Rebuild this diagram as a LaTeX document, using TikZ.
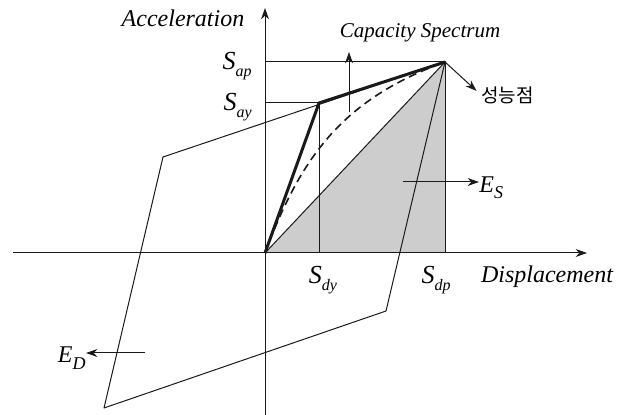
\documentclass[tikz,border=0pt]{standalone}
\usepackage{fontspec}
\setmainfont{Liberation Serif}
\newfontfamily\lblfont{Liberation Serif}
\newfontfamily\kofont{Noto Sans CJK KR}
\usetikzlibrary{arrows.meta,positioning}
\definecolor{inkline}{HTML}{1A1A1A}
\definecolor{areafill}{HTML}{CDCDCD}
\newcommand{\spec}[2]{{\lblfont\fontsize{13}{14}\selectfont\itshape #1}\raisebox{-0.7ex}{\lblfont\fontsize{8}{9}\selectfont\itshape #2}}
\newcommand{\enr}[2]{{\lblfont\fontsize{12}{14}\selectfont\itshape #1}\raisebox{-0.7ex}{\lblfont\fontsize{9}{10}\selectfont\itshape #2}}
\tikzset{
  axis/.style={-{Stealth[length=2mm,width=1.4mm]}, line width=0.5pt, draw=inkline},
  thinln/.style={line width=0.5pt, draw=inkline, line join=round},
  thickln/.style={line width=1.5pt, draw=inkline, line join=round},
  dashln/.style={line width=0.8pt, draw=inkline, dash pattern=on 4pt off 2.5pt},
  ptr/.style={-{Stealth[length=2mm,width=1.4mm]}, line width=0.5pt, draw=inkline},
  axlbl/.style={font=\lblfont\fontsize{12}{14}\selectfont\itshape, inner sep=0pt},
  symlbl/.style={inner sep=0pt}}

\begin{document}
\begin{tikzpicture}[x=0.5pt, y=-0.5pt]
  \useasboundingbox (0,0) rectangle (619,415);
  \coordinate (O) at (265,253);
  \coordinate (Y) at (319,103);
  \coordinate (P) at (445,62);
  \coordinate (Sdy) at (319,253);
  \coordinate (Sdp) at (445,253);
  \coordinate (Say) at (265,103);
  \coordinate (Sap) at (265,62);
  \coordinate (Q) at (386,311);
  \coordinate (R) at (104,408);
  \coordinate (T) at (163,157);
  \coordinate (xl) at (13,253);
  \coordinate (xr) at (587,253);
  \coordinate (yb) at (265,415);
  \coordinate (yt) at (265,8);
  \coordinate (cs0) at (349,112);
  \coordinate (cs1) at (349,52);
  \coordinate (es0) at (403,182);
  \coordinate (ed0) at (145,353);

  \fill[areafill] (O) -- (P) -- (Sdp) -- cycle;
  \draw[axis] (xl) -- (xr);
  \draw[axis] (yb) -- (yt);
  \draw[thinln] (Sap) -- (P) -- (Sdp);
  \draw[thinln] (Say) -- (Y) -- (Sdy);
  \draw[thinln] (O) -- (P);
  \draw[thinln] (P) -- (Q) -- (R) -- (T) -- cycle;
  \draw[dashln] (O) .. controls (300,160) and (340,100) .. (P);
  \draw[thickln] (O) -- (Y) -- (P);

  \node[axlbl] (acc) at (183,18) {Acceleration};
  \node[axlbl, font=\lblfont\fontsize{10.5}{12}\selectfont\itshape] (cap) at (420,33) {Capacity Spectrum};
  \node[axlbl] (disp) at (547,277) {Displacement};
  \node[symlbl, anchor=east] (lap) at (252,66) {\spec{S}{ap}};
  \node[symlbl, anchor=east] (lay) at (252,107) {\spec{S}{ay}};
  \node[symlbl] (ldy) at (323,280) {\spec{S}{dy}};
  \node[symlbl] (ldp) at (436,280) {\spec{S}{dp}};
  \node[symlbl, anchor=west] (Es) at (479,188) {\enr{E}{S}};
  \node[symlbl, anchor=east] (Ed) at (86,358) {\enr{E}{D}};
  \node[symlbl, anchor=west, font=\kofont\fontsize{9.5}{11}\selectfont] (ppt) at (481,95) {성능점};

  \draw[ptr] (cs0) -- (cs1);
  \draw[ptr] (es0) -- (es0 -| Es.west);
  \draw[ptr] (ed0) -- (ed0 -| Ed.east);
  \draw[ptr, shorten >=3pt] (P) -- (ppt.west);
\end{tikzpicture}
\end{document}
